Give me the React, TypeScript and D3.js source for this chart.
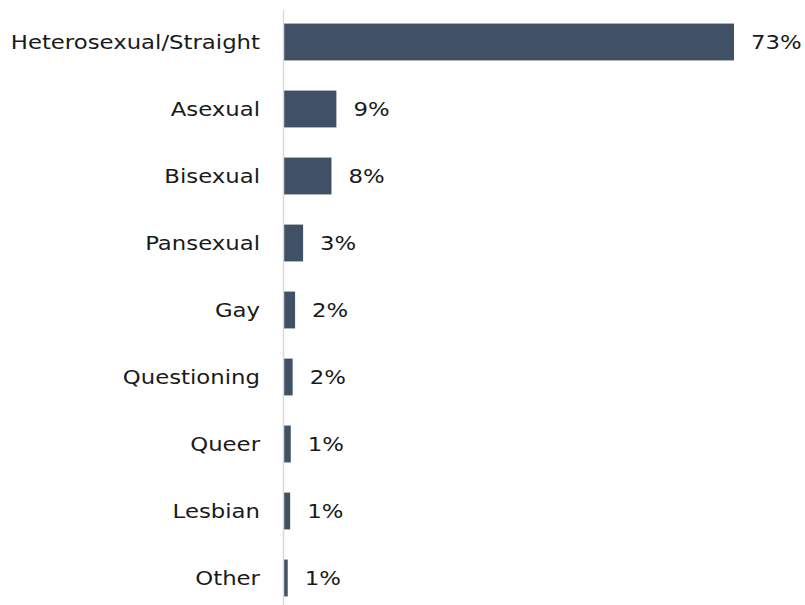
import { useRef, useEffect } from 'react';
import * as d3 from 'd3';

const categories = [
  'Heterosexual/Straight',
  'Asexual',
  'Bisexual',
  'Pansexual',
  'Gay',
  'Questioning',
  'Queer',
  'Lesbian',
  'Other',
];
const values = [73, 8.5, 7.7, 3.1, 1.8, 1.4, 1.1, 1.0, 0.6];
const valueLabels = ['73%', '9%', '8%', '3%', '2%', '2%', '1%', '1%', '1%'];

const width = 805;
const height = 605;

export default function App() {
  const svgRef = useRef<SVGSVGElement>(null);

  useEffect(() => {
    if (!svgRef.current) return;
    const svg = d3.select(svgRef.current);
    svg.selectAll('*').remove();

    const x = d3.scaleLinear().domain([0, 73]).range([284, 734]);
    const y = d3.scaleBand<string>()
      .domain(categories)
      .range([8.5, 611.5])
      .paddingInner(0.45)
      .paddingOuter(0.225);

    const font = 'Verdana, "DejaVu Sans", sans-serif';
    const stretch = 1.14; // DejaVu is narrower than the Verdana-like original

    // bars
    svg.append('g')
      .selectAll('rect')
      .data(categories)
      .join('rect')
      .attr('x', x(0))
      .attr('y', (d) => y(d)!)
      .attr('width', (_, i) => x(values[i]) - x(0))
      .attr('height', y.bandwidth())
      .attr('fill', '#415165');

    // axis line
    svg.append('line')
      .attr('x1', 283.5)
      .attr('x2', 283.5)
      .attr('y1', 10)
      .attr('y2', height)
      .attr('stroke', '#d9d9d9')
      .attr('stroke-width', 1.5);

    // category labels
    svg.append('g')
      .selectAll('text')
      .data(categories)
      .join('text')
      .attr('transform', (d) => `translate(260,${y(d)! + y.bandwidth() / 2}) scale(${stretch},1)`)
      .attr('dy', '0.36em')
      .attr('text-anchor', 'end')
      .attr('font-family', font)
      .attr('font-size', 20)
      .attr('fill', '#1a1a1a')
      .text((d) => d);

    // value labels
    svg.append('g')
      .selectAll('text')
      .data(categories)
      .join('text')
      .attr('transform', (d, i) => `translate(${x(values[i]) + 17},${y(d)! + y.bandwidth() / 2}) scale(${stretch},1)`)
      .attr('dy', '0.36em')
      .attr('font-family', font)
      .attr('font-size', 20)
      .attr('fill', '#1a1a1a')
      .text((_, i) => valueLabels[i]);
  }, []);

  return (
    <svg
      ref={svgRef}
      width={width}
      height={height}
      style={{ position: 'absolute', left: 0, top: 0, background: '#fff' }}
    />
  );
}
